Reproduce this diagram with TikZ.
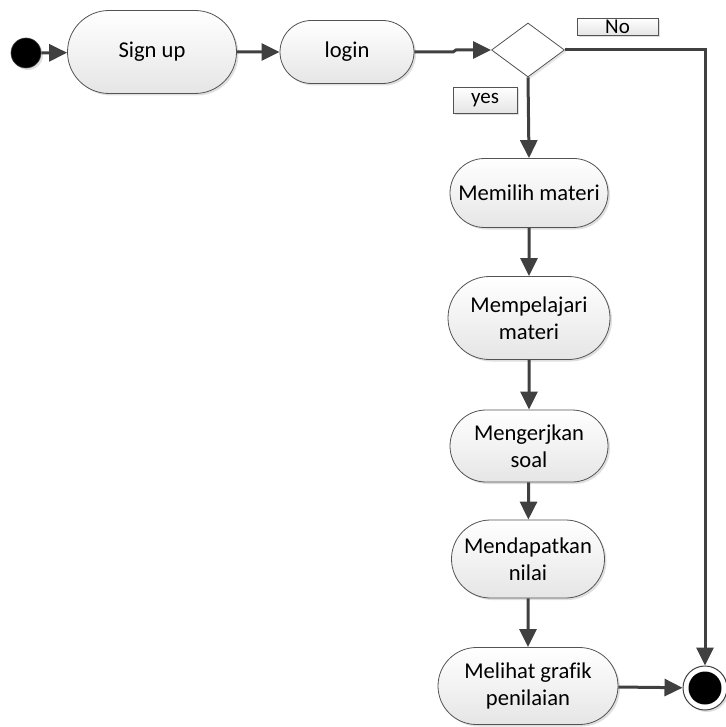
\documentclass[tikz,border=0pt]{standalone}
\usepackage{fontspec}
\setmainfont{Carlito}[Ligatures=NoCommon]
\usetikzlibrary{arrows.meta,shapes.misc,shapes.geometric,shadows}
\definecolor{linec}{HTML}{404040}
\begin{document}
\begin{tikzpicture}[x=1pt,y=1pt,
  act/.style={rounded rectangle, draw=linec!90, line width=0.8pt,
    top color=white, bottom color=black!10,
    drop shadow={shadow xshift=2pt,shadow yshift=-2pt,opacity=0.25},
    align=center, inner sep=0pt, font=\fontsize{22.6}{27}\selectfont},
  lbl/.style={rectangle, draw=linec!90, line width=0.7pt,
    top color=white, bottom color=black!10,
    drop shadow={shadow xshift=2pt,shadow yshift=-2pt,opacity=0.25},
    inner sep=0pt, font=\fontsize{21}{24}\selectfont},
  flow/.style={draw=linec, line width=3pt,
    -{Triangle[length=18pt,width=17pt]}},
  plain/.style={draw=linec, line width=3pt}
]
\useasboundingbox (0,0) rectangle (725,-727);

\node[circle, fill=black, draw=linec, line width=0.6pt, minimum size=30pt, inner sep=0pt,
  drop shadow={shadow xshift=2pt,shadow yshift=-2pt,opacity=0.25}] (start) at (26,-53) {};

\node[act, minimum width=169pt, minimum height=83pt] (signup) at (152,-52) {Sign up};
\node[act, minimum width=134pt, minimum height=63pt] (login) at (347,-52) {login};

\node[diamond, draw=linec!90, line width=0.8pt, fill=white, minimum width=73pt, minimum height=54pt,
  inner sep=0pt, drop shadow={shadow xshift=2pt,shadow yshift=-2pt,opacity=0.2}] (dec) at (528,-50) {};

\node[lbl, minimum width=81pt, minimum height=17pt] (no) at (617.5,-26.5) {No};
\node[lbl, minimum width=64pt, minimum height=26pt] (yes) at (485,-100) {yes};

\node[act, minimum width=158pt, minimum height=69pt] (memilih) at (529,-193) {Memilih materi};
\node[act, minimum width=162pt, minimum height=83pt] (mempelajari) at (529,-318) {Mempelajari\\materi};
\node[act, minimum width=158pt, minimum height=72pt] (mengerjkan) at (529,-446) {Mengerjkan\\soal};
\node[act, minimum width=153pt, minimum height=78pt] (mendapatkan) at (528,-559) {Mendapatkan\\nilai};
\node[act, minimum width=180pt, minimum height=77pt] (melihat) at (528,-686) {Melihat grafik\\penilaian};

\node[circle, draw=linec, line width=1pt, fill=white, minimum size=44pt, inner sep=0pt,
  drop shadow={shadow xshift=2pt,shadow yshift=-2pt,opacity=0.25}] (end) at (705,-688) {};
\node[circle, fill=black, minimum size=33pt, inner sep=0pt] (endin) at (end.center) {};

\coordinate (j1) at (453,-52);
\coordinate (j2) at (456,-50);

\draw[flow] (start) -- (signup);
\draw[flow] (signup) -- (login);
\draw[flow] (login.east) -- (j1) -- (j2) -- (dec.west);
\draw[flow] (dec.south) -- (memilih.north);
\draw[flow] (memilih) -- (mempelajari);
\draw[flow] (mempelajari) -- (mengerjkan);
\draw[flow] (mengerjkan) -- (mendapatkan);
\draw[flow] (mendapatkan) -- (melihat);
\draw[flow] (melihat) -- (end);
\draw[flow] (dec.east) -| (end.north);
\end{tikzpicture}
\end{document}
